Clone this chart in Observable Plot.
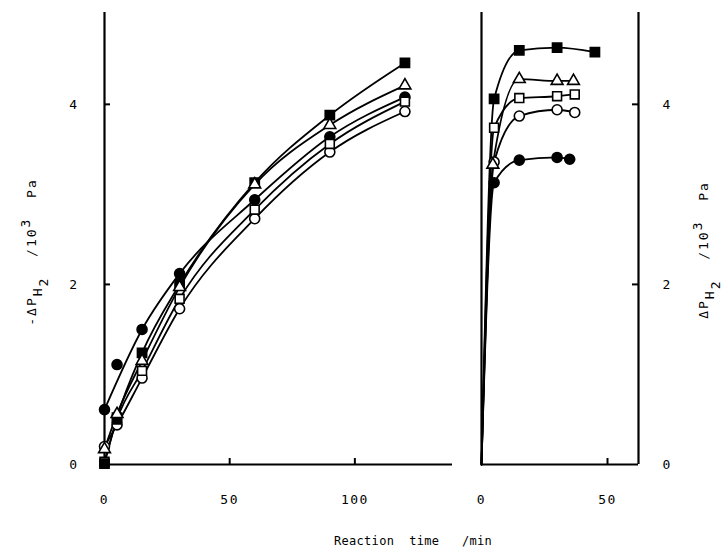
<!DOCTYPE html>
<html>
<head>
<meta charset="utf-8">
<script src="https://cdn.jsdelivr.net/npm/d3@7"></script>
<script src="https://cdn.jsdelivr.net/npm/@observablehq/plot@0.6"></script>
<style>
  body { margin: 0; background: #fff; }
  #wrap { position: relative; width: 728px; height: 554px; font-family: "DejaVu Sans Mono", "Liberation Mono", monospace; color: #000; overflow: hidden; }
  .panel { position: absolute; top: 0; }
  .ylab { position: absolute; white-space: pre; font-size: 13px; transform: translate(-50%, -50%) rotate(-90deg); letter-spacing: 2px; }
  .ylab sub { font-size: 1em; vertical-align: -0.45em; line-height: 0; }
  .ylab sup { font-size: 1em; vertical-align: 0.45em; line-height: 0; }
  .xlab { position: absolute; white-space: pre; font-size: 12px; transform: translate(-50%, -50%); letter-spacing: 0.3px; }
</style>
</head>
<body>
<div id="wrap">
  <div class="ylab" id="ylabL" style="left:34px; top:252px;">-ΔP<sub>H<sub>2</sub></sub>  /10<sup>3</sup>  Pa</div>
  <div class="ylab" id="ylabR" style="left:706px; top:250px;">ΔP<sub>H<sub>2</sub></sub>  /10<sup>3</sup>  Pa</div>
  <div class="xlab" style="left:413px; top:541px;">Reaction  time   /min</div>
</div>
<script>
// ---- Left panel data (reaction time, min ; -ΔP_H2 / 10^3 Pa) ----
const leftTimes = [0, 5, 15, 30, 60, 90, 120];
const leftFilledCircle = [0.61, 1.11, 1.50, 2.12, 2.94, 3.64, 4.08];
const leftOpenCircle   = [0.20, 0.44, 0.96, 1.73, 2.73, 3.47, 3.92];
const leftOpenSquare   = [0.03, 0.50, 1.04, 1.84, 2.83, 3.56, 4.03];
const leftFilledSquare = [0.01, 0.52, 1.24, 2.00, 3.13, 3.88, 4.46];
const leftOpenTriangle = [0.17, 0.56, 1.15, 1.97, 3.11, 3.77, 4.21];
// points that lie off their drawn curve (time values), per series
const leftOffCurve = { filledCircle: [5] };

// ---- Right panel data (reaction time, min ; ΔP_H2 / 10^3 Pa) ----
const rightTimesFilledCircle = [5, 15, 30, 35];
const rightFilledCircle      = [3.13, 3.38, 3.41, 3.39];
const rightTimesOpenCircle   = [5, 15, 30, 37];
const rightOpenCircle        = [3.36, 3.87, 3.94, 3.91];
const rightTimesOpenSquare   = [5, 15, 30, 37];
const rightOpenSquare        = [3.74, 4.07, 4.09, 4.11];
const rightTimesFilledSquare = [5, 15, 30, 45];
const rightFilledSquare      = [4.06, 4.60, 4.63, 4.58];
const rightTimesOpenTriangle = [4.5, 15, 30, 36.5];
const rightOpenTriangle      = [3.33, 4.28, 4.26, 4.26];
// all right-panel curves start at the origin
const rightCurveStart = [0, 0];

// tick values
const leftXTicks = [0, 50, 100];
const rightXTicks = [0, 50];
const yTicks = [0, 2, 4];

// ---- styles per series ----
const styles = {
  filledCircle:  { symbol: "circle",   fill: "black", r: 5 },
  openCircle:    { symbol: "circle",   fill: "white", r: 5 },
  openSquare:    { symbol: "square",   fill: "white", r: 5 },
  filledSquare:  { symbol: "square",   fill: "black", r: 5.2 },
  openTriangle:  { symbol: "triangle", fill: "white", r: 4.4 }
};

const leftSeries = [
  ["filledCircle", leftTimes, leftFilledCircle],
  ["openCircle", leftTimes, leftOpenCircle],
  ["openSquare", leftTimes, leftOpenSquare],
  ["filledSquare", leftTimes, leftFilledSquare],
  ["openTriangle", leftTimes, leftOpenTriangle]
];
const rightSeries = [
  ["filledCircle", rightTimesFilledCircle, rightFilledCircle],
  ["openCircle", rightTimesOpenCircle, rightOpenCircle],
  ["openSquare", rightTimesOpenSquare, rightOpenSquare],
  ["filledSquare", rightTimesFilledSquare, rightFilledSquare],
  ["openTriangle", rightTimesOpenTriangle, rightOpenTriangle]
];

function dataMarks(series, start, offCurve) {
  const marks = [];
  const all = series.map(([name, ts, vs]) => ({ name, pts: ts.map((t, i) => ({ s: name, t, v: vs[i] })) }));
  for (const { name, pts } of all) {
    const skip = (offCurve && offCurve[name]) || [];
    let line = pts.filter(p => !skip.includes(p.t));
    if (start) line = [{ s: name, t: start[0], v: start[1] }, ...line];
    marks.push(Plot.line(line, { x: "t", y: "v", curve: "monotone-x", stroke: "black", strokeWidth: 1.8 }));
  }
  for (const { name, pts } of all) {
    const st = styles[name];
    marks.push(Plot.dot(pts, { x: "t", y: "v", symbol: st.symbol, r: st.r, fill: st.fill, stroke: "black", strokeWidth: 1.6 }));
  }
  return marks;
}

const font = { fontFamily: "'DejaVu Sans Mono', monospace", fontSize: "13px", letterSpacing: "1.5px", background: "transparent", overflow: "visible" };
const yDomain = [0, 5.02];
const leftXDomain = [0, 139];
const rightXDomain = [0, 62.3];
const H = 520, MT = 12, MB = 56, TICK = 6;
const frameH = H - MT - MB;

const LW = 470, LML = 104, LMR = 18, LFW = LW - LML - LMR;
const left = Plot.plot({
  width: LW, height: H,
  marginLeft: LML, marginRight: LMR, marginTop: MT, marginBottom: MB,
  style: font,
  x: { domain: leftXDomain },
  y: { domain: yDomain },
  marks: [
    Plot.ruleX([leftXDomain[0]], { strokeWidth: 2.2 }),
    Plot.ruleY([yDomain[0]], { strokeWidth: 2.2 }),
    Plot.ruleY(yTicks.slice(1), { strokeWidth: 2, insetRight: LFW - TICK }),
    Plot.ruleX(leftXTicks.slice(1), { strokeWidth: 2, insetTop: frameH - TICK }),
    Plot.axisY(yTicks, { tickSize: 0, tickPadding: 26, tickFormat: d => String(d), label: null }),
    Plot.axisX(leftXTicks, { tickSize: 0, tickPadding: 30, tickFormat: d => String(d), label: null }),
    ...dataMarks(leftSeries, null, leftOffCurve)
  ]
});
left.classList.add("panel");
left.style.left = "0px";

const RW = 258, RML = 11, RMR = 90, RFW = RW - RML - RMR;
const right = Plot.plot({
  width: RW, height: H,
  marginLeft: RML, marginRight: RMR, marginTop: MT, marginBottom: MB,
  style: font,
  x: { domain: rightXDomain },
  y: { domain: yDomain },
  marks: [
    Plot.ruleX([rightXDomain[0]], { strokeWidth: 2.2 }),
    Plot.ruleX([rightXDomain[1]], { strokeWidth: 2.2 }),
    Plot.ruleY([yDomain[0]], { strokeWidth: 2.2 }),
    Plot.ruleY(yTicks.slice(1), { strokeWidth: 2, insetLeft: RFW - TICK }),
    Plot.ruleX(rightXTicks.slice(1), { strokeWidth: 2, insetTop: frameH - TICK }),
    Plot.axisY(yTicks, { anchor: "right", tickSize: 0, tickPadding: 24, tickFormat: d => String(d), label: null }),
    Plot.axisX(rightXTicks, { tickSize: 0, tickPadding: 30, tickFormat: d => String(d), label: null }),
    ...dataMarks(rightSeries, rightCurveStart, null)
  ]
});
right.classList.add("panel");
right.style.left = "470px";

const wrap = document.getElementById("wrap");
wrap.appendChild(left);
wrap.appendChild(right);
</script>
</body>
</html>
